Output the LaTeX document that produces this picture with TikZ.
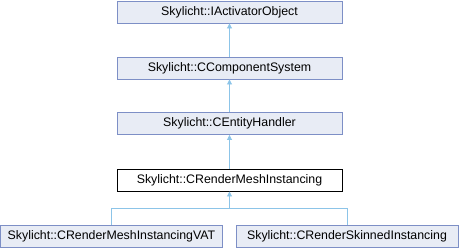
\documentclass[tikz,border=0pt]{standalone}
\usepackage{fontspec}
\setmainfont{Liberation Sans}
\usetikzlibrary{arrows.meta}
\definecolor{boxfill}{HTML}{E8ECF5}
\definecolor{boxline}{HTML}{7D8FC6}
\definecolor{edgecol}{HTML}{8CC4E8}
\tikzset{
  cls/.style={draw=boxline, fill=boxfill, line width=0.9bp, minimum height=22bp, inner sep=0pt, font=\fontsize{12.4}{14}\selectfont},
  cur/.style={cls, draw=black, fill=white},
  inh/.style={draw=edgecol, line width=0.9bp, {Triangle[length=5bp,width=5bp]}-},
}
\begin{document}
\begin{tikzpicture}[x=1bp,y=-1bp]
\useasboundingbox (0,0) rectangle (460,248);
\node[cls, minimum width=225bp] (a) at (229.5,12) {Skylicht::IActivatorObject};
\node[cls, minimum width=225bp] (b) at (229.5,68) {Skylicht::CComponentSystem};
\node[cls, minimum width=225bp] (c) at (229.5,123.5) {Skylicht::CEntityHandler};
\node[cur, minimum width=225bp] (d) at (229.5,180) {Skylicht::CRenderMeshInstancing};
\node[cls, minimum width=222bp] (e) at (111.5,236) {Skylicht::CRenderMeshInstancingVAT};
\node[cls, minimum width=222bp] (f) at (347,236) {Skylicht::CRenderSkinnedInstancing};
\draw[inh] (a) -- (b);
\draw[inh] (b) -- (c);
\draw[inh] (c) -- (d);
\coordinate (j) at (229.5,208);
\draw[inh] (d.south) -- (j) -| (e.north);
\draw[draw=edgecol, line width=0.9bp] (j) -| (f.north);
\end{tikzpicture}
\end{document}
